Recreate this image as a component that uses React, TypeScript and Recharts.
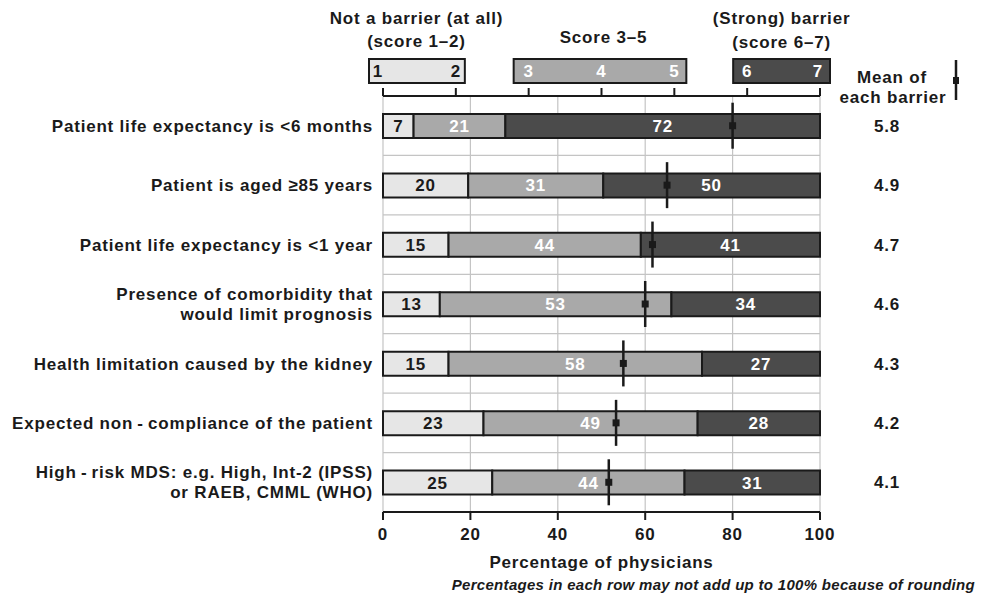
import {
  ComposedChart,
  Bar,
  Line,
  XAxis,
  YAxis,
  CartesianGrid,
  LabelList,
} from "recharts";

const categories = [
  "Patient life expectancy is <6 months",
  "Patient is aged ≥85 years",
  "Patient life expectancy is <1 year",
  "Presence of comorbidity that\nwould limit prognosis",
  "Health limitation caused by the kidney",
  "Expected non\u2009-\u2009compliance of the patient",
  "High\u2009-\u2009risk MDS: e.g. High, Int-2 (IPSS)\nor RAEB, CMML (WHO)",
];
const notBarrier = [7, 19.5, 15, 13, 15, 23, 25];
const score35 = [21, 30.9, 44, 53, 58, 49, 44];
const strongBarrier = [72, 49.6, 41, 34, 27, 28, 31];
const meanScore = [5.8, 4.9, 4.7, 4.6, 4.3, 4.2, 4.1];
const pctTicks = [0, 20, 40, 60, 80, 100];
const scaleTicks = [1, 2, 3, 4, 5, 6, 7];

const data = categories.map((name, i) => ({
  name,
  low: notBarrier[i],
  mid: score35[i],
  high: strongBarrier[i],
  mean: meanScore[i],
}));

const W = 985;
const H = 595;
const LEFT = 383;
const RIGHT = 165;
const PLOT_W = W - LEFT - RIGHT;
const INK = "#1a1a1a";
const FONT = '"Liberation Sans", Arial, Helvetica, sans-serif';
const txt = { fontFamily: FONT, fontWeight: 700, fontSize: 17, letterSpacing: 0.8 };

// top scale: boxes, titles and the mean legend hang off the 1-7 ticks
const TopTick = (props: any) => {
  const { x, y, payload } = props;
  const v = payload.value;
  const U = PLOT_W / 6;
  const box = (l: number, r: number, fill: string) => (
    <rect x={l} y={y - 29} width={r - l} height={24} fill={fill} stroke={INK} strokeWidth={2} />
  );
  return (
    <g>
      {v === 1 && (
        <>
          <text x={x + U / 2 - 3} y={y - 64} textAnchor="middle" fill={INK} style={txt}>Not a barrier (at all)</text>
          <text x={x + U / 2 - 3} y={y - 41} textAnchor="middle" fill={INK} style={txt}>(score 1–2)</text>
          {box(x - 14, x + U + 9, "#e6e6e6")}
        </>
      )}
      {v === 3 && (
        <>
          <text x={x + U + 2} y={y - 45} textAnchor="middle" fill={INK} style={txt}>Score 3–5</text>
          {box(x - 15, x + 2 * U + 12, "#a9a9a9")}
        </>
      )}
      {v === 6 && (
        <>
          <text x={x + U / 2 - 2} y={y - 64} textAnchor="middle" fill={INK} style={txt}>(Strong) barrier</text>
          <text x={x + U / 2 - 2} y={y - 40} textAnchor="middle" fill={INK} style={txt}>(score 6–7)</text>
          {box(x - 14, x + U + 10, "#4b4b4b")}
        </>
      )}
      <text
        x={x + (v === 1 ? -5 : v === 7 ? -2 : 0)}
        y={y - 11}
        textAnchor="middle"
        fill={v <= 2 ? INK : "#ffffff"}
        style={txt}
      >
        {v}
      </text>
      {v === 7 && (
        <>
          <text x={x + 72} y={y - 5} textAnchor="middle" fill={INK} style={txt}>Mean of</text>
          <text x={x + 73} y={y + 15} textAnchor="middle" fill={INK} style={txt}>each barrier</text>
          <line x1={x + 136} x2={x + 136} y1={y - 28} y2={y + 12} stroke={INK} strokeWidth={2.5} />
          <rect x={x + 133} y={y - 11} width={6} height={7} fill={INK} />
        </>
      )}
    </g>
  );
};

const NameTick = (props: any) => {
  const { x, y, payload } = props;
  const lines = String(payload.value).split("\n");
  const y0 = y - ((lines.length - 1) * 20) / 2;
  return (
    <text x={x} y={y0} textAnchor="end" fill={INK} style={txt}>
      {lines.map((l, i) => (
        <tspan key={i} x={x} y={y0 + i * 20} dy="0.36em">
          {l}
        </tspan>
      ))}
    </text>
  );
};

const MeanTick = (props: any) => {
  const { x, y, payload } = props;
  const row = data.find((d) => d.name === payload.value);
  return (
    <text x={x} y={y} dy="0.36em" textAnchor="middle" fill={INK} style={txt}>
      {row ? row.mean.toFixed(1) : ""}
    </text>
  );
};

const MeanMark = (props: any) => {
  const { cx, cy, index } = props;
  if (cx == null || cy == null) return <g key={index} />;
  return (
    <g key={index}>
      <line x1={cx} x2={cx} y1={cy - 23} y2={cy + 23} stroke={INK} strokeWidth={2.5} />
      <rect x={cx - 3.5} y={cy - 3.5} width={7} height={7} fill={INK} />
    </g>
  );
};

const rowLines = ({ offset }: any) =>
  [1, 2, 3, 4, 5, 6].map((i) => offset.top + (i * offset.height) / 7);

const App = () => {
  return (
    <div style={{ position: "absolute", left: 0, top: 0, width: W, height: H, background: "#fff" }}>
      <ComposedChart
        width={W}
        height={H}
        data={data}
        layout="vertical"
        margin={{ top: 66, right: 0, bottom: 0, left: 0 }}
      >
        <CartesianGrid
          stroke="#c4c4c4"
          strokeWidth={1.2}
          horizontalCoordinatesGenerator={rowLines}
        />
        <XAxis
          type="number"
          domain={[0, 100]}
          ticks={pctTicks}
          height={83}
          stroke={INK}
          strokeWidth={2}
          tickSize={8}
          tickMargin={8}
          tick={{ fill: INK, ...txt }}
          label={{
            value: "Percentage of physicians",
            position: "insideBottom",
            offset: 27,
            fill: INK,
            style: txt,
          }}
        />
        <XAxis
          xAxisId="mean"
          orientation="top"
          type="number"
          domain={[1, 7]}
          ticks={scaleTicks}
          height={30}
          stroke={INK}
          strokeWidth={2}
          tickSize={8}
          tickMargin={0}
          tick={<TopTick />}
        />
        <YAxis
          type="category"
          dataKey="name"
          width={LEFT}
          axisLine={false}
          tickLine={false}
          tickSize={0}
          tickMargin={10}
          tick={<NameTick />}
          interval={0}
        />
        <YAxis
          yAxisId="right"
          orientation="right"
          type="category"
          dataKey="name"
          width={RIGHT}
          axisLine={false}
          tickLine={false}
          tickSize={0}
          tickMargin={67}
          tick={<MeanTick />}
          interval={0}
        />
        <Bar dataKey="low" stackId="s" barSize={24} fill="#e6e6e6" stroke={INK} strokeWidth={2} isAnimationActive={false}>
          <LabelList dataKey="low" position="center" formatter={(v: any) => Math.round(v)} fill={INK} style={txt} />
        </Bar>
        <Bar dataKey="mid" stackId="s" barSize={24} fill="#a9a9a9" stroke={INK} strokeWidth={2} isAnimationActive={false}>
          <LabelList dataKey="mid" position="center" formatter={(v: any) => Math.round(v)} fill="#ffffff" style={txt} />
        </Bar>
        <Bar dataKey="high" stackId="s" barSize={24} fill="#4b4b4b" stroke={INK} strokeWidth={2} isAnimationActive={false}>
          <LabelList dataKey="high" position="center" formatter={(v: any) => Math.round(v)} fill="#ffffff" style={txt} />
        </Bar>
        <Line
          xAxisId="mean"
          yAxisId="right"
          dataKey="mean"
          stroke="none"
          dot={(p: any) => <MeanMark {...p} key={p.index} />}
          activeDot={false}
          isAnimationActive={false}
        />
      </ComposedChart>
      <div
        style={{
          position: "absolute",
          right: 10,
          top: 576,
          fontFamily: FONT,
          fontWeight: 700,
          fontStyle: "italic",
          fontSize: 15,
          letterSpacing: 0.3,
          color: INK,
          whiteSpace: "nowrap",
        }}
      >
        Percentages in each row may not add up to 100% because of rounding
      </div>
    </div>
  );
};

export default App;
